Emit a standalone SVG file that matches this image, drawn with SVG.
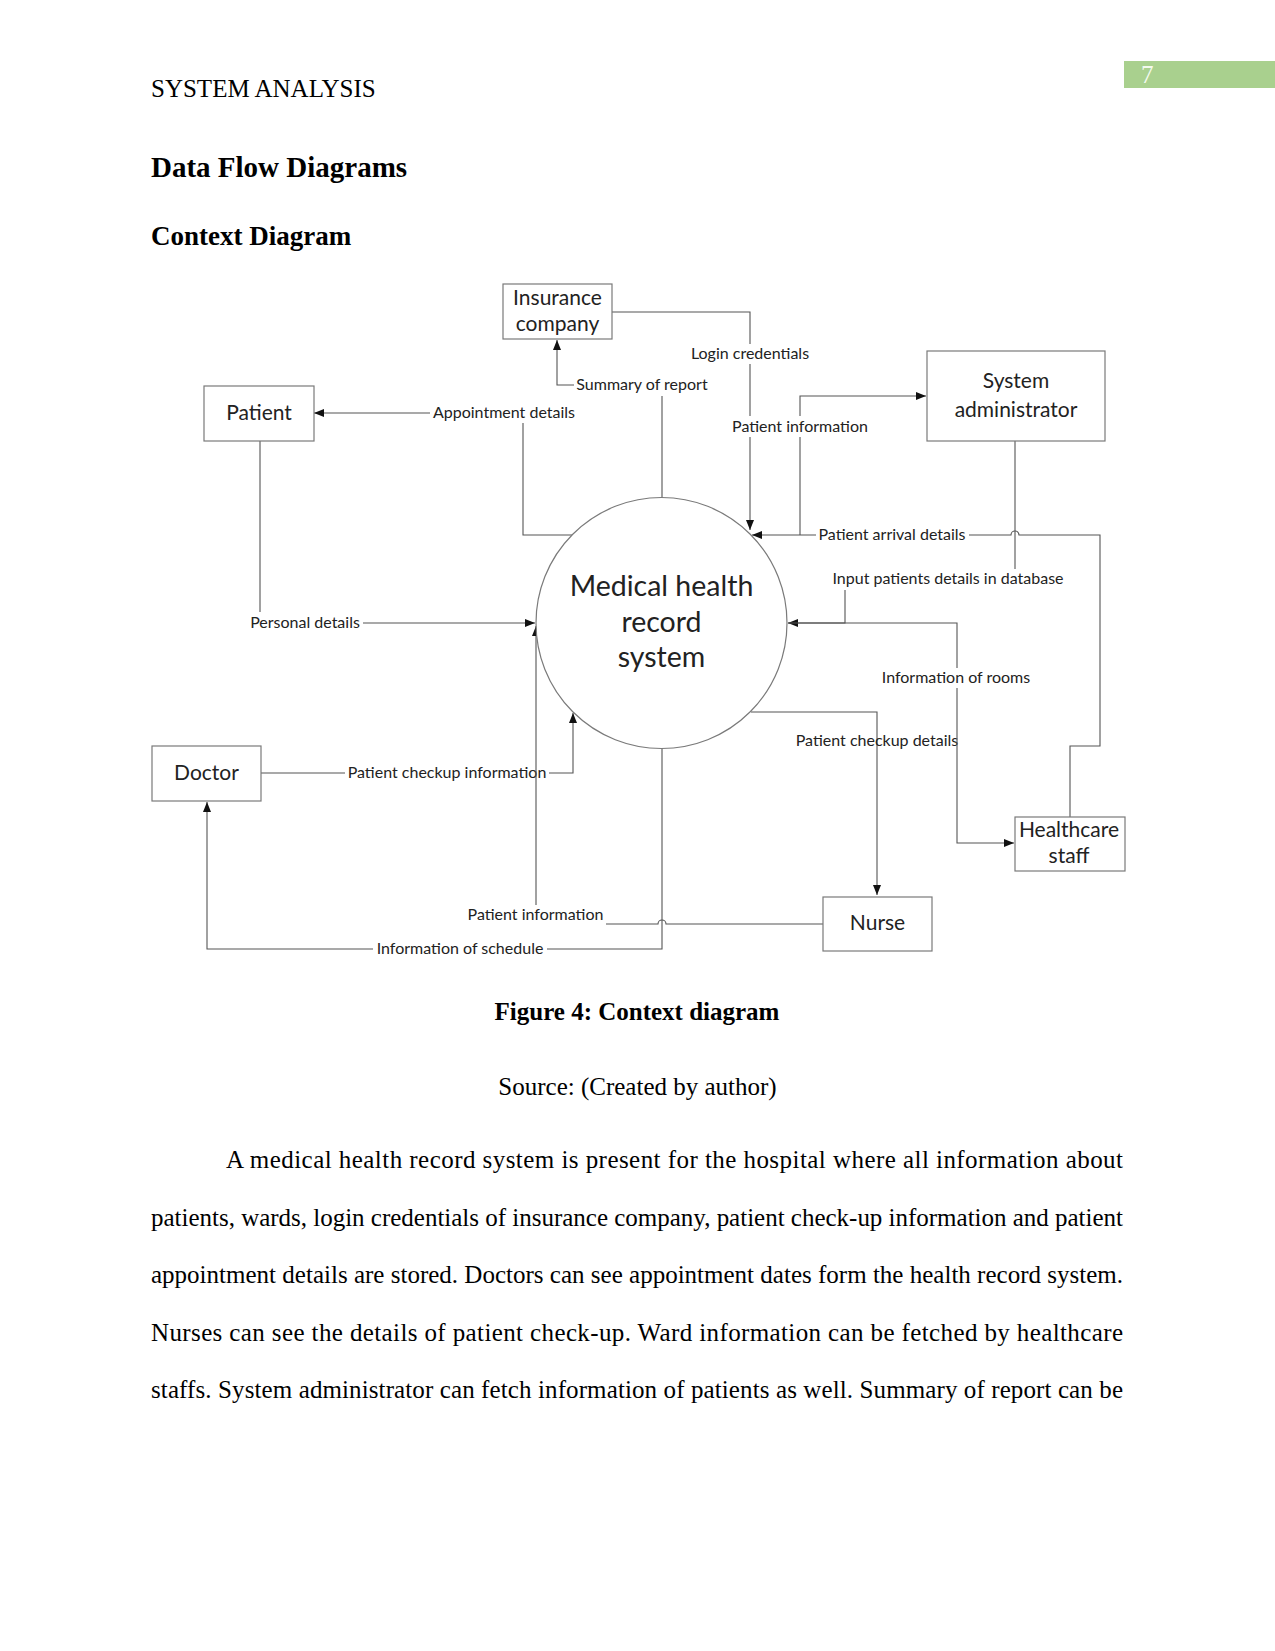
<svg xmlns="http://www.w3.org/2000/svg" width="1275" height="1651" viewBox="0 0 1275 1651">
<style>
.page{font-family:"Liberation Serif","Times New Roman",serif;fill:#000}
.node rect{fill:#fff;stroke:#7a7a7a;stroke-width:1.2}
.node circle{fill:#fff;stroke:#7a7a7a;stroke-width:1.2}
.nl{font-family:Lato,"Noto Sans",sans-serif;font-size:21px;fill:#222;text-anchor:middle}
.cl{font-family:Lato,"Noto Sans",sans-serif;font-size:28.5px;fill:#222;text-anchor:middle}
.ln{fill:none;stroke:#555;stroke-width:1.1}
.el{font-family:Lato,"Noto Sans",sans-serif;font-size:16px;fill:#222;text-anchor:middle}
.bg{fill:#fff}
</style>
<defs>
<marker id="ah" viewBox="0 0 10 8" refX="10" refY="4" markerWidth="10" markerHeight="8" markerUnits="userSpaceOnUse" orient="auto">
<path d="M0,0 L10,4 L0,8 Z" fill="#111"/>
</marker>
</defs>
<rect width="1275" height="1651" fill="#fff"/>

<!-- page header -->
<text class="page" x="151" y="97" font-size="25">SYSTEM ANALYSIS</text>
<rect x="1124" y="61" width="151" height="27" fill="#a9d08e"/>
<text class="page" x="1141" y="83" font-size="25" style="fill:#f4faee">7</text>
<text class="page" x="151" y="177" font-size="29" font-weight="bold">Data Flow Diagrams</text>
<text class="page" x="151" y="245" font-size="27" font-weight="bold">Context Diagram</text>

<!-- connectors -->
<g id="connectors">
<g id="c-login">
<path class="ln" d="M612,312 H750 V530" marker-end="url(#ah)"/>
<rect class="bg" x="689" y="344" width="123" height="20"/>
<text class="el" x="750" y="359">Login credentials</text>
</g>
<g id="c-patinfo-admin">
<path class="ln" d="M800,535 V396 H926" marker-end="url(#ah)"/>
<rect class="bg" x="729" y="416" width="142" height="21"/>
<text class="el" x="800" y="432">Patient information</text>
</g>
<g id="c-summary">
<path class="ln" d="M662,498 V385 H557 V340" marker-end="url(#ah)"/>
<rect class="bg" x="574" y="375" width="138" height="21"/>
<text class="el" x="642" y="390">Summary of report</text>
</g>
<g id="c-appointment">
<path class="ln" d="M572,535 H523 V413 H314" marker-end="url(#ah)"/>
<rect class="bg" x="430" y="403" width="148" height="20"/>
<text class="el" x="504" y="418">Appointment details</text>
</g>
<g id="c-personal">
<path class="ln" d="M260,441 V623 H535" marker-end="url(#ah)"/>
<rect class="bg" x="248" y="612" width="115" height="20"/>
<text class="el" x="305" y="628">Personal details</text>
</g>
<g id="c-checkupinfo">
<path class="ln" d="M261,773 H573 V713" marker-end="url(#ah)"/>
<rect class="bg" x="345" y="763" width="204" height="20"/>
<text class="el" x="447" y="778">Patient checkup information</text>
</g>
<g id="c-schedule">
<path class="ln" d="M662,748 V949 H207 V802" marker-end="url(#ah)"/>
<rect class="bg" x="373" y="939" width="174" height="20"/>
<text class="el" x="460" y="954">Information of schedule</text>
</g>
<g id="c-patinfo-nurse">
<path class="ln" d="M823,924 H666 A4,4 0 0 0 658,924 H536 V626" marker-end="url(#ah)"/>
<rect class="bg" x="465" y="905" width="141" height="22"/>
<text class="el" x="535.5" y="920">Patient information</text>
</g>
<g id="c-arrival">
<path class="ln" d="M1070,817 V746 H1100 V535 H1019 A4,4 0 0 0 1011,535 H752" marker-end="url(#ah)"/>
<rect class="bg" x="816" y="525" width="153" height="20"/>
<text class="el" x="892" y="540">Patient arrival details</text>
</g>
<g id="c-input">
<path class="ln" d="M1015,441 V579 H845 V623 H788" marker-end="url(#ah)"/>
<rect class="bg" x="829" y="569" width="238" height="21"/>
<text class="el" x="948" y="584">Input patients details in database</text>
</g>
<g id="c-checkupdetails">
<path class="ln" d="M751,712 H877 V895" marker-end="url(#ah)"/>
<text class="el" x="877" y="746">Patient checkup details</text>
</g>
<g id="c-rooms">
<path class="ln" d="M788,623 H957 V843 H1014" marker-end="url(#ah)"/>
<rect class="bg" x="878" y="668" width="156" height="20"/>
<text class="el" x="956" y="683">Information of rooms</text>
</g>
</g>

<!-- nodes -->
<g id="mhrs" class="node">
<circle cx="661.5" cy="623" r="125.5"/>
<text class="cl" x="661.5" y="596">Medical health</text>
<text class="cl" x="661.5" y="632">record</text>
<text class="cl" x="661.5" y="667">system</text>
</g>
<g id="insurance" class="node">
<rect x="503" y="284" width="109" height="55"/>
<text class="nl" x="557.5" y="305">Insurance</text>
<text class="nl" x="557.5" y="331">company</text>
</g>
<g id="patient" class="node">
<rect x="204" y="386" width="110" height="55"/>
<text class="nl" x="259" y="420">Patient</text>
</g>
<g id="sysadmin" class="node">
<rect x="927" y="351" width="178" height="90"/>
<text class="nl" x="1016" y="388">System</text>
<text class="nl" x="1016" y="417">administrator</text>
</g>
<g id="doctor" class="node">
<rect x="152" y="746" width="109" height="55"/>
<text class="nl" x="206.5" y="780">Doctor</text>
</g>
<g id="healthcare" class="node">
<rect x="1015" y="817" width="110" height="54"/>
<text class="nl" x="1069" y="837">Healthcare</text>
<text class="nl" x="1069" y="863">staff</text>
</g>
<g id="nurse" class="node">
<rect x="823" y="897" width="109" height="54"/>
<text class="nl" x="877.5" y="930">Nurse</text>
</g>

<!-- caption and body -->
<text class="page" x="637" y="1020" font-size="25" font-weight="bold" text-anchor="middle">Figure 4: Context diagram</text>
<text class="page" x="637.5" y="1095" font-size="25" text-anchor="middle">Source: (Created by author)</text>
<g class="page" font-size="25">
<text x="226" y="1168" textLength="897" lengthAdjust="spacing">A medical health record system is present for the hospital where all information about</text>
<text x="151" y="1226" textLength="972" lengthAdjust="spacing">patients, wards, login credentials of insurance company, patient check-up information and patient</text>
<text x="151" y="1283" textLength="972" lengthAdjust="spacing">appointment details are stored. Doctors can see appointment dates form the health record system.</text>
<text x="151" y="1341" textLength="972" lengthAdjust="spacing">Nurses can see the details of patient check-up. Ward information can be fetched by healthcare</text>
<text x="151" y="1398" textLength="972" lengthAdjust="spacing">staffs. System administrator can fetch information of patients as well. Summary of report can be</text>
</g>
</svg>
